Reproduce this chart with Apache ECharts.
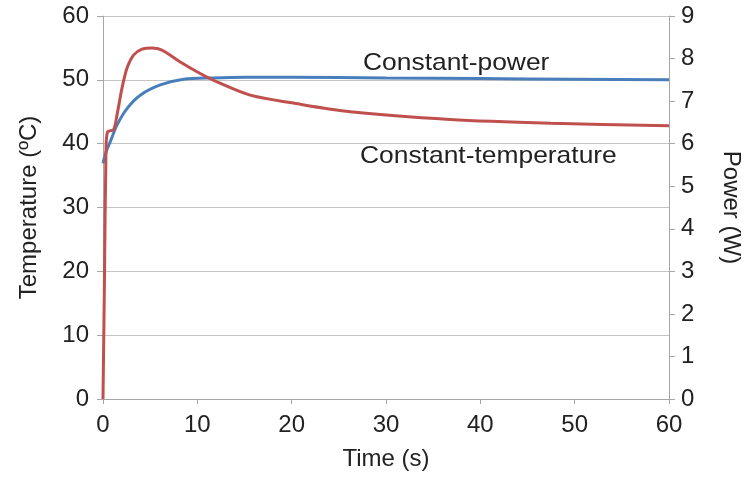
<!DOCTYPE html>
<html>
<head>
<meta charset="utf-8">
<script src="https://cdn.jsdelivr.net/npm/echarts@6/dist/echarts.min.js"></script>
<style>
  html, body { margin: 0; padding: 0; background: #fff; }
  #chart { width: 744px; height: 483px; }
</style>
</head>
<body>
<div id="chart"></div>
<script>
// constant-power run: temperature (ºC) vs time (s)
const timeBlue = [0, 0.35, 0.77, 1.48, 2.54, 3.95, 6.07, 8.54, 11.7, 15, 20, 30, 40, 50, 60];
const tempBlue = [36.9, 38.8, 40.3, 42.9, 45.5, 47.6, 49.2, 50.1, 50.3, 50.4, 50.4, 50.3, 50.2, 50.1, 50.0];

// constant-temperature run: power (W) vs time (s)
const timeRed = [0, 0.15, 0.32, 0.49, 1.12, 1.48, 2.01, 2.54, 3.24, 4.13, 5.19, 6.25, 8.19, 10.3, 12.4, 15.6, 20, 26.2, 36.8, 47.5, 60];
const powerRed = [0, 2.7, 5.85, 6.28, 6.33, 6.67, 7.30, 7.77, 8.08, 8.22, 8.25, 8.2, 7.92, 7.65, 7.42, 7.14, 6.96, 6.75, 6.57, 6.48, 6.42];

const xTicks = [0, 60, 10];   // min, max, interval
const tempTicks = [0, 60, 10];
const powerTicks = [0, 9, 1];

const font = "'Liberation Sans', Arial, sans-serif";
const textColor = "#222";
const axisGray = "#a6a6a6";

function pairs(xs, ys) {
  return xs.map((x, i) => [x, ys[i]]);
}

const chart = echarts.init(document.getElementById("chart"));
chart.setOption({
  animation: false,
  textStyle: { fontFamily: font },
  grid: { left: 103, right: 75, top: 16, bottom: 84, outerBoundsMode: "none", containLabel: false },
  xAxis: {
    type: "value",
    min: xTicks[0],
    max: xTicks[1],
    interval: xTicks[2],
    name: "Time (s)",
    nameLocation: "middle",
    nameGap: 48,
    nameTextStyle: { fontSize: 24, color: textColor, fontFamily: font },
    axisLine: { lineStyle: { color: axisGray, width: 1 } },
    axisTick: { show: true, length: 5, lineStyle: { color: axisGray } },
    axisLabel: { fontSize: 24, color: textColor, margin: 14, fontFamily: font },
    splitLine: { show: false },
  },
  yAxis: [
    {
      type: "value",
      min: tempTicks[0],
      max: tempTicks[1],
      interval: tempTicks[2],
      name: "Temperature (ºC)",
      nameLocation: "middle",
      nameRotate: 90,
      nameGap: 62,
      nameTextStyle: { fontSize: 24, color: textColor, fontFamily: font },
      axisLine: { show: true, lineStyle: { color: axisGray, width: 1 } },
      axisTick: { show: true, length: 6, lineStyle: { color: axisGray } },
      axisLabel: { fontSize: 24, color: textColor, margin: 14, fontFamily: font },
      splitLine: { show: true, lineStyle: { color: "#c4c4c4", width: 1 } },
    },
    {
      type: "value",
      position: "right",
      min: powerTicks[0],
      max: powerTicks[1],
      interval: powerTicks[2],
      name: "Power (W)",
      nameLocation: "middle",
      nameRotate: -90,
      nameGap: 50,
      nameTextStyle: { fontSize: 24, color: textColor, fontFamily: font },
      axisLine: { show: true, lineStyle: { color: axisGray, width: 1 } },
      axisTick: { show: true, length: 6, lineStyle: { color: axisGray } },
      axisLabel: { fontSize: 24, color: textColor, margin: 12, fontFamily: font },
      splitLine: { show: false },
    },
  ],
  series: [
    {
      name: "Constant-power",
      type: "line",
      yAxisIndex: 0,
      data: pairs(timeBlue, tempBlue),
      smooth: 0.3,
      showSymbol: false,
      lineStyle: { color: "#4a7ebb", width: 3 },
    },
    {
      name: "Constant-temperature",
      type: "line",
      yAxisIndex: 1,
      data: pairs(timeRed, powerRed),
      smooth: 0.3,
      showSymbol: false,
      lineStyle: { color: "#c0504d", width: 3 },
    },
  ],
  // curve labels; the source font runs a bit wider than Liberation Sans
  graphic: [
    {
      type: "text",
      x: 363,
      y: 51,
      scaleX: 1.1,
      style: { text: "Constant-power", fontSize: 24, fill: textColor, fontFamily: font },
    },
    {
      type: "text",
      x: 360,
      y: 144,
      scaleX: 1.1,
      style: { text: "Constant-temperature", fontSize: 24, fill: textColor, fontFamily: font },
    },
  ],
});
</script>
</body>
</html>
